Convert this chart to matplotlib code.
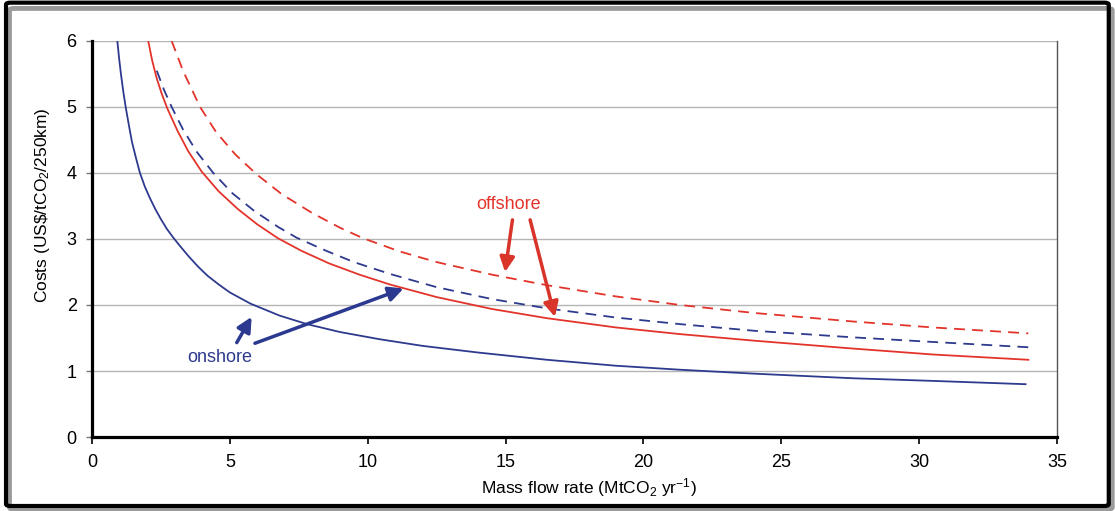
import matplotlib
matplotlib.use("Agg")
import matplotlib.pyplot as plt
from matplotlib.patches import FancyBboxPatch

plt.rcParams['font.family'] = ['Liberation Sans', 'DejaVu Sans']
plt.rcParams['mathtext.fontset'] = 'custom'
plt.rcParams['mathtext.rm'] = 'Liberation Sans'
plt.rcParams['mathtext.it'] = 'Liberation Sans:italic'
plt.rcParams['mathtext.bf'] = 'Liberation Sans:bold'

# values
onshore_x = [0.92, 0.98, 1.05, 1.14, 1.23, 1.34, 1.45, 1.6, 1.74, 1.92, 2.1, 2.3, 2.5,
             2.72, 2.95, 3.2, 3.5, 3.85, 4.2, 4.6, 5.0, 5.75, 6.8, 7.8, 9.0, 10.45, 12.0,
             14.0, 16.5, 19.0, 21.3, 24.0, 27.6, 30.5, 33.86]
onshore_y = [6.0, 5.75, 5.5, 5.22, 4.98, 4.72, 4.47, 4.22, 4.0, 3.79, 3.62, 3.45, 3.30,
             3.15, 3.02, 2.89, 2.74, 2.58, 2.44, 2.31, 2.19, 2.02, 1.84, 1.71, 1.59, 1.48,
             1.38, 1.28, 1.17, 1.08, 1.02, 0.96, 0.89, 0.85, 0.80]

onshore_dash_x = [2.35, 2.6, 2.89, 3.3, 3.8, 4.4, 5.1, 5.9, 6.76, 7.42, 8.5, 9.5, 10.81,
                  12.5, 14.5, 16.49, 19.0, 21.33, 24.0, 27.6, 30.5, 33.96]
onshore_dash_y = [5.55, 5.27, 5.0, 4.66, 4.32, 4.0, 3.69, 3.42, 3.18, 3.02, 2.82, 2.65, 2.47,
                  2.27, 2.09, 1.95, 1.81, 1.71, 1.61, 1.51, 1.44, 1.36]

offshore_x = [2.04, 2.18, 2.35, 2.53, 2.73, 3.1, 3.49, 3.98, 4.6, 5.3, 6.0, 6.75, 7.6, 8.6,
              9.7, 10.81, 12.5, 14.5, 16.5, 19.0, 21.3, 24.0, 27.6, 30.5, 33.96]
offshore_y = [6.0, 5.71, 5.43, 5.2, 4.98, 4.64, 4.33, 4.02, 3.72, 3.45, 3.22, 3.01, 2.82, 2.63,
              2.46, 2.31, 2.12, 1.94, 1.80, 1.66, 1.56, 1.46, 1.34, 1.25, 1.17]

offshore_dash_x = [2.89, 3.3, 3.92, 4.5, 5.2, 5.97, 6.88, 8.0, 9.0, 9.84, 11.17, 12.5, 14.5,
                   16.5, 19.0, 21.33, 24.0, 27.6, 30.5, 33.96]
offshore_dash_y = [6.0, 5.55, 5.0, 4.62, 4.28, 3.98, 3.68, 3.39, 3.17, 3.01, 2.81, 2.65, 2.46,
                   2.30, 2.13, 2.0, 1.88, 1.75, 1.66, 1.57]

x_ticks = [0, 5, 10, 15, 20, 25, 30, 35]
y_ticks = [0, 1, 2, 3, 4, 5, 6]

blue = '#2e3a8e'
red = '#e3342b'

fig = plt.figure(figsize=(11.15, 5.11), dpi=100)

# frame with shadow round the whole figure
fig.patches.append(FancyBboxPatch((0.0085, 0.0035), 0.989, 0.98,
                                  boxstyle='round,pad=0,rounding_size=0.004',
                                  transform=fig.transFigure, fill=False,
                                  ec='#9a9a9a', lw=3.5, zorder=0))
fig.patches.append(FancyBboxPatch((0.0054, 0.0098), 0.989, 0.985,
                                  boxstyle='round,pad=0,rounding_size=0.004',
                                  transform=fig.transFigure, fill=False,
                                  ec='black', lw=3, zorder=1))

ax = fig.add_axes([0.0825, 0.1448, 0.8655, 0.775])

ax.plot(onshore_x, onshore_y, color=blue, lw=1.3, zorder=3)
ax.plot(onshore_dash_x, onshore_dash_y, color=blue, lw=1.3, dashes=(6, 4), zorder=3)
ax.plot(offshore_x, offshore_y, color=red, lw=1.3, zorder=4)
ax.plot(offshore_dash_x, offshore_dash_y, color=red, lw=1.3, dashes=(6, 4), zorder=3)

ax.set_xlim(0, 35)
ax.set_ylim(0, 6)
ax.set_xticks(x_ticks)
ax.set_yticks(y_ticks)
ax.tick_params(axis='both', labelsize=13, direction='out', pad=7)
ax.tick_params(axis='y', length=4, width=1, color='#777777')
ax.tick_params(axis='x', length=5, width=1.2, color='black')

ax.yaxis.grid(True, color='#b5b5b5', lw=1)
ax.set_axisbelow(True)

ax.spines['top'].set_visible(False)
ax.spines['left'].set_linewidth(2.3)
ax.spines['bottom'].set_linewidth(2.3)
ax.spines['right'].set_linewidth(1)
ax.spines['right'].set_color('#555555')

ax.set_ylabel(r'Costs (US\$/tCO$_2$/250km)', fontsize=12.5)
ax.yaxis.set_label_coords(-0.051, 0.586)
ax.yaxis.label.set_va('center')
ax.set_xlabel(r'Mass flow rate (MtCO$_2$ yr$^{-1}$)', fontsize=12.5)
ax.xaxis.set_label_coords(0.515, -0.128)
ax.xaxis.label.set_va('center')

# labels with arrows
ax.text(15.1, 3.52, 'offshore', color=red, fontsize=13, ha='center', va='center')
arrow_red = dict(arrowstyle='-|>', color='#d8342a', lw=2.5, mutation_scale=22,
                 shrinkA=0, shrinkB=0)
ax.annotate('', xy=(14.98, 2.50), xytext=(15.25, 3.29), arrowprops=arrow_red)
ax.annotate('', xy=(16.79, 1.82), xytext=(15.89, 3.29), arrowprops=arrow_red)

ax.text(4.64, 1.21, 'onshore', color=blue, fontsize=13, ha='center', va='center')
arrow_blue = dict(arrowstyle='-|>', color='#2b3990', lw=2.5, mutation_scale=22,
                  shrinkA=0, shrinkB=0)
ax.annotate('', xy=(5.79, 1.82), xytext=(5.25, 1.43), arrowprops=arrow_blue)
ax.annotate('', xy=(11.3, 2.25), xytext=(5.91, 1.42), arrowprops=arrow_blue)

fig.savefig('out.png', dpi=100)
